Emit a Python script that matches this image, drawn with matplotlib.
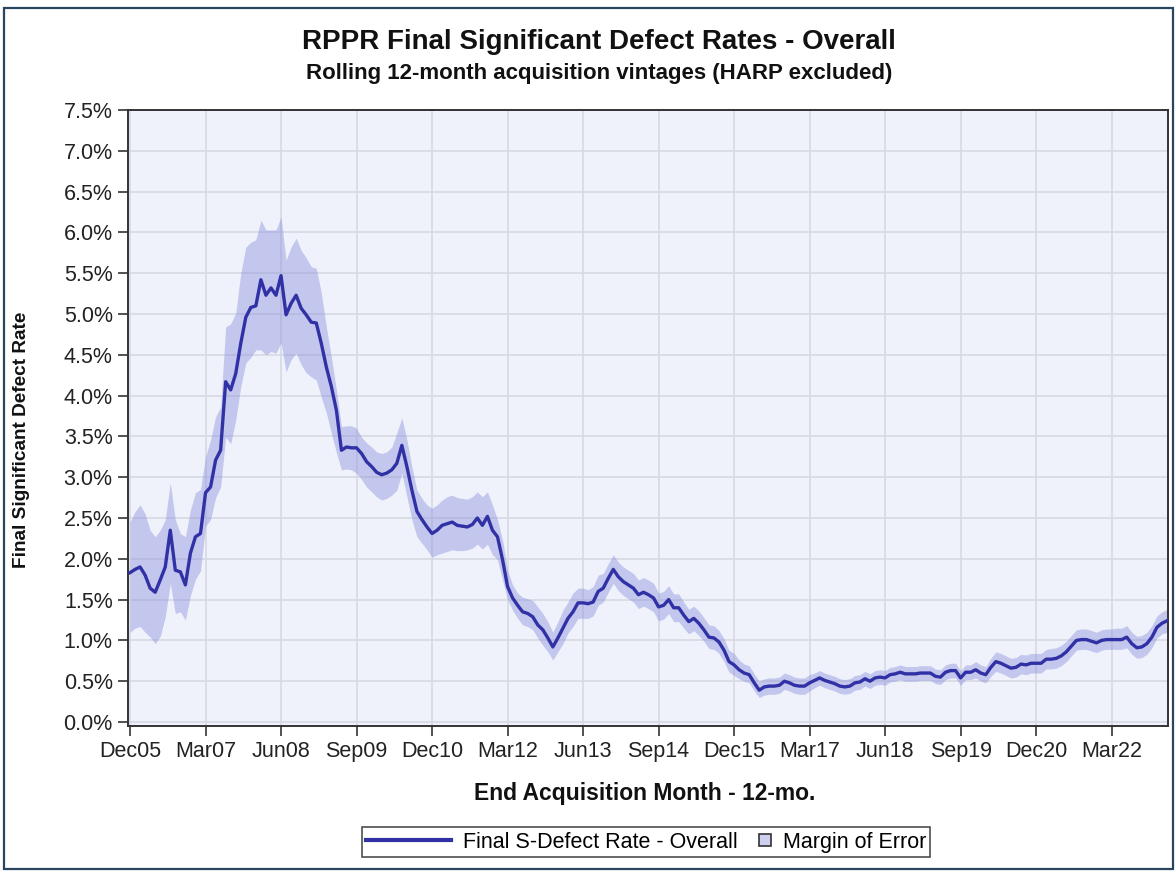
import matplotlib
matplotlib.use('Agg')
import matplotlib.pyplot as plt
from matplotlib.lines import Line2D
from matplotlib.patches import Patch, Rectangle
from matplotlib.legend_handler import HandlerPatch
from matplotlib.ticker import FuncFormatter

plt.rcParams['font.family'] = ['Liberation Sans', 'DejaVu Sans']

# monthly rolling values, first point = Dec05
rate = [
    1.83, 1.87, 1.90, 1.80, 1.64, 1.59, 1.74, 1.90, 2.35, 1.86,
    1.84, 1.68, 2.07, 2.27, 2.31, 2.81, 2.88, 3.21, 3.33, 4.17,
    4.07, 4.27, 4.64, 4.96, 5.08, 5.10, 5.42, 5.23, 5.32, 5.23,
    5.47, 4.99, 5.13, 5.23, 5.07, 4.99, 4.90, 4.89, 4.64, 4.35,
    4.11, 3.82, 3.33, 3.37, 3.36, 3.36, 3.29, 3.19, 3.13, 3.06,
    3.03, 3.05, 3.09, 3.17, 3.39, 3.13, 2.84, 2.58, 2.48, 2.39,
    2.31, 2.35, 2.41, 2.43, 2.45, 2.41, 2.40, 2.39, 2.42, 2.50,
    2.41, 2.52, 2.35, 2.27, 1.99, 1.66, 1.52, 1.43, 1.35, 1.33,
    1.29, 1.19, 1.13, 1.03, 0.92, 1.03, 1.15, 1.27, 1.35, 1.46,
    1.46, 1.45, 1.47, 1.60, 1.64, 1.76, 1.87, 1.78, 1.72, 1.68,
    1.64, 1.56, 1.59, 1.56, 1.52, 1.41, 1.43, 1.50, 1.40, 1.40,
    1.31, 1.23, 1.27, 1.21, 1.13, 1.04, 1.03, 0.98, 0.88, 0.74,
    0.70, 0.64, 0.60, 0.58, 0.48, 0.39, 0.43, 0.44, 0.44, 0.45,
    0.50, 0.48, 0.45, 0.44, 0.44, 0.48, 0.51, 0.54, 0.51, 0.49,
    0.47, 0.44, 0.43, 0.44, 0.48, 0.49, 0.53, 0.50, 0.54, 0.55,
    0.54, 0.58, 0.59, 0.61, 0.59, 0.59, 0.59, 0.60, 0.60, 0.60,
    0.56, 0.55, 0.61, 0.63, 0.63, 0.54, 0.61, 0.61, 0.64, 0.60,
    0.58, 0.67, 0.74, 0.72, 0.69, 0.66, 0.67, 0.71, 0.70, 0.72,
    0.72, 0.72, 0.77, 0.77, 0.78, 0.81, 0.86, 0.93, 1.00, 1.01,
    1.01, 0.99, 0.97, 1.00, 1.01, 1.01, 1.01, 1.01, 1.04, 0.96,
    0.91, 0.92, 0.96, 1.04, 1.16, 1.21, 1.24,
]

moe_upper = [
    2.45, 2.58, 2.66, 2.55, 2.35, 2.27, 2.35, 2.48, 2.93, 2.48,
    2.31, 2.27, 2.60, 2.81, 2.85, 3.25, 3.46, 3.74, 3.86, 4.84,
    4.88, 5.01, 5.50, 5.82, 5.88, 5.91, 6.15, 6.03, 6.03, 6.03,
    6.19, 5.66, 5.82, 5.93, 5.78, 5.69, 5.58, 5.56, 5.26, 4.84,
    4.47, 4.07, 3.62, 3.63, 3.63, 3.60, 3.49, 3.42, 3.37, 3.31,
    3.29, 3.31, 3.37, 3.54, 3.73, 3.46, 3.13, 2.84, 2.74, 2.66,
    2.62, 2.66, 2.72, 2.76, 2.78, 2.75, 2.74, 2.73, 2.76, 2.82,
    2.76, 2.82, 2.66, 2.48, 2.23, 1.86, 1.68, 1.58, 1.53, 1.51,
    1.49, 1.41, 1.33, 1.23, 1.10, 1.23, 1.37, 1.47, 1.58, 1.64,
    1.64, 1.62, 1.66, 1.80, 1.82, 1.94, 2.05, 1.96, 1.90, 1.86,
    1.82, 1.74, 1.77, 1.74, 1.70, 1.58, 1.60, 1.67, 1.57, 1.57,
    1.47, 1.38, 1.42, 1.36, 1.28, 1.19, 1.18, 1.12, 1.02, 0.88,
    0.84, 0.76, 0.71, 0.69, 0.59, 0.50, 0.53, 0.54, 0.54, 0.55,
    0.60, 0.58, 0.55, 0.54, 0.54, 0.58, 0.60, 0.63, 0.60, 0.58,
    0.56, 0.53, 0.52, 0.53, 0.57, 0.58, 0.62, 0.59, 0.63, 0.64,
    0.63, 0.67, 0.68, 0.70, 0.68, 0.68, 0.68, 0.69, 0.69, 0.69,
    0.65, 0.64, 0.70, 0.72, 0.72, 0.63, 0.70, 0.70, 0.74, 0.70,
    0.68, 0.78, 0.86, 0.84, 0.81, 0.78, 0.79, 0.83, 0.82, 0.84,
    0.84, 0.84, 0.89, 0.90, 0.91, 0.94, 0.99, 1.06, 1.13, 1.14,
    1.14, 1.12, 1.10, 1.13, 1.14, 1.14, 1.15, 1.15, 1.18, 1.10,
    1.05, 1.06, 1.10, 1.18, 1.30, 1.35, 1.38,
]

moe_lower = [
    1.10, 1.15, 1.17, 1.10, 1.04, 0.96, 1.05, 1.29, 1.70, 1.33,
    1.35, 1.25, 1.55, 1.75, 1.85, 2.40, 2.48, 2.75, 2.88, 3.49,
    3.41, 3.70, 4.11, 4.40, 4.47, 4.56, 4.56, 4.50, 4.54, 4.52,
    4.65, 4.29, 4.44, 4.52, 4.38, 4.28, 4.23, 4.19, 3.98, 3.79,
    3.54, 3.30, 3.09, 3.10, 3.09, 3.05, 2.97, 2.88, 2.82, 2.76,
    2.72, 2.74, 2.78, 2.84, 3.05, 2.76, 2.48, 2.27, 2.19, 2.11,
    2.02, 2.05, 2.07, 2.09, 2.11, 2.10, 2.10, 2.11, 2.13, 2.18,
    2.12, 2.18, 2.05, 1.99, 1.74, 1.50, 1.37, 1.27, 1.19, 1.17,
    1.13, 1.03, 0.94, 0.86, 0.76, 0.86, 0.96, 1.09, 1.17, 1.27,
    1.27, 1.27, 1.30, 1.43, 1.47, 1.59, 1.70, 1.61, 1.55, 1.51,
    1.47, 1.39, 1.42, 1.39, 1.35, 1.24, 1.26, 1.33, 1.23, 1.23,
    1.15, 1.08, 1.12, 1.06, 0.99, 0.90, 0.89, 0.84, 0.74, 0.61,
    0.57, 0.53, 0.50, 0.48, 0.38, 0.30, 0.33, 0.34, 0.34, 0.35,
    0.40, 0.38, 0.35, 0.34, 0.34, 0.38, 0.42, 0.45, 0.42, 0.40,
    0.38, 0.35, 0.34, 0.35, 0.39, 0.40, 0.44, 0.41, 0.45, 0.46,
    0.45, 0.49, 0.50, 0.52, 0.50, 0.50, 0.50, 0.51, 0.51, 0.51,
    0.47, 0.46, 0.52, 0.54, 0.54, 0.45, 0.52, 0.52, 0.54, 0.50,
    0.48, 0.56, 0.62, 0.60, 0.57, 0.54, 0.55, 0.59, 0.58, 0.60,
    0.60, 0.60, 0.65, 0.65, 0.66, 0.69, 0.74, 0.81, 0.88, 0.89,
    0.89, 0.87, 0.85, 0.88, 0.89, 0.89, 0.89, 0.89, 0.91, 0.83,
    0.78, 0.79, 0.83, 0.91, 1.03, 1.08, 1.10,
]

# one label every 15 months
tick_labels = ['Dec05', 'Mar07', 'Jun08', 'Sep09', 'Dec10', 'Mar12', 'Jun13',
               'Sep14', 'Dec15', 'Mar17', 'Jun18', 'Sep19', 'Dec20', 'Mar22']

line_color = '#3131a6'
band_color = '#8e92dd'


# 图例里的小方块，放在句柄区域的右端
class SquareHandler(HandlerPatch):
    def create_artists(self, legend, orig_handle, xdescent, ydescent,
                       width, height, fontsize, trans):
        side = height * 0.8
        x0 = width - xdescent - side
        y0 = -ydescent + (height - side) / 2
        p = Rectangle((x0, y0), side, side, facecolor='#cfd0f0',
                      edgecolor='#333333', lw=1.2, transform=trans)
        return [p]


W, H = 1176, 871
fig = plt.figure(figsize=(W / 100, H / 100), dpi=100)
fig.patch.set_facecolor('white')

# outer frame
fig.add_artist(Rectangle((4 / W, 2 / H), (W - 7) / W, (H - 10) / H,
                         transform=fig.transFigure, fill=False,
                         edgecolor='#2a4560', lw=1.6))

ax = fig.add_axes([128 / W, 1 - 726 / H, 1040 / W, 616 / H])
ax.set_facecolor('#eff2fb')

x = list(range(len(rate)))
ax.fill_between(x, moe_lower, moe_upper, color=band_color, alpha=0.45, lw=0, zorder=2)
ax.plot(x, rate, color=line_color, lw=2.4, zorder=3)

ax.set_xlim(-0.4, len(rate) - 0.8)
ax.set_ylim(-0.049, 7.5)
ax.set_yticks([i * 0.5 for i in range(16)])
ax.yaxis.set_major_formatter(FuncFormatter(lambda v, p: '%.1f%%' % v))
ax.set_xticks(range(0, 15 * len(tick_labels), 15))
ax.set_xticklabels(tick_labels)

ax.grid(True, color='#d6d9e2', lw=1.2, zorder=0)
ax.set_axisbelow(True)
ax.tick_params(axis='both', labelsize=15.5, length=7, width=1.2,
               color='#333333', labelcolor='#222222', pad=4)
for s in ax.spines.values():
    s.set_color('#333333')
    s.set_linewidth(1.4)

fig.text(599 / W, 1 - 42 / H, 'RPPR Final Significant Defect Rates - Overall',
         ha='center', va='center', fontsize=20, fontweight='bold', color='#111111')
fig.text(599 / W, 1 - 74 / H, 'Rolling 12-month acquisition vintages (HARP excluded)',
         ha='center', va='center', fontsize=16, fontweight='bold', color='#111111')
fig.text(645 / W, 1 - 793 / H, 'End Acquisition Month - 12-mo.',
         ha='center', va='center', fontsize=16.5, fontweight='bold', color='#111111')
fig.text(22 / W, 1 - 440 / H, 'Final Significant Defect Rate', rotation=90,
         ha='center', va='center', fontsize=13.7, fontweight='bold', color='#111111')

handles = [Line2D([], [], color=line_color, lw=3),
           Patch(facecolor='#cfd0f0', edgecolor='#333333')]
labels = ['Final S-Defect Rate - Overall', 'Margin of Error']
leg = fig.legend(handles, labels, loc='center', ncol=2,
                 bbox_to_anchor=(646 / W, 1 - 842 / H),
                 fontsize=15.5, frameon=True, fancybox=False,
                 handlelength=3.95, handletextpad=0.55, columnspacing=-2.4,
                 borderpad=0.2, handler_map={Patch: SquareHandler()})
leg.get_frame().set_edgecolor('#222222')
leg.get_frame().set_linewidth(1.2)

fig.savefig('out.png', dpi=100, facecolor='white')
